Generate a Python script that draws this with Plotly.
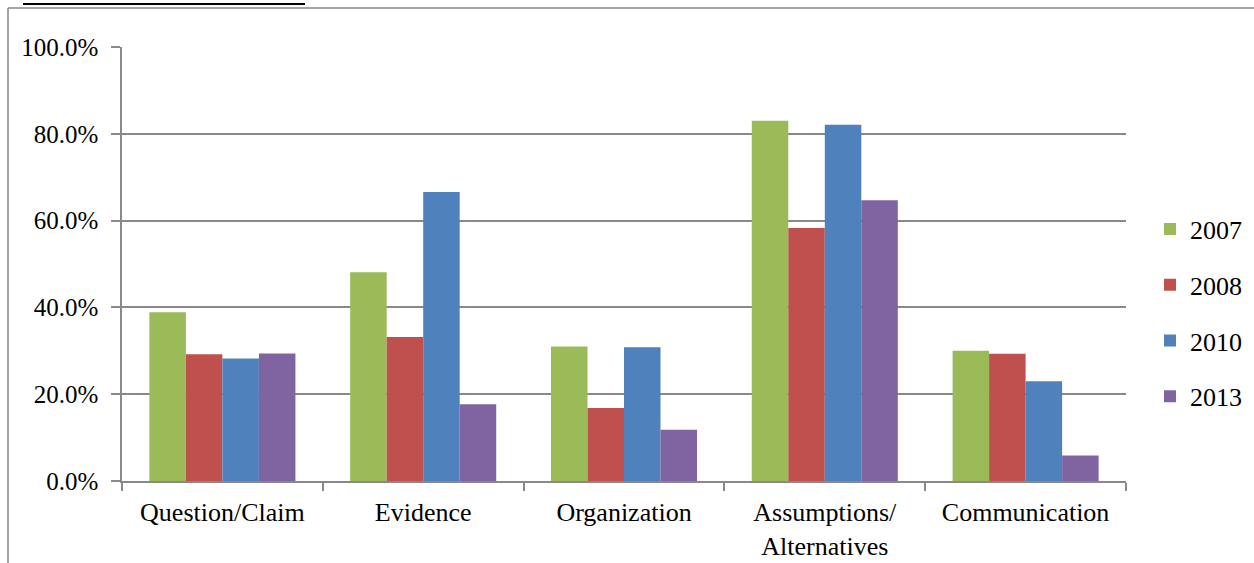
import plotly.graph_objects as go

categories = ["Question/Claim", "Evidence", "Organization", "Assumptions/<br>Alternatives", "Communication"]
years = ["2007", "2008", "2010", "2013"]
v2007 = [0.389, 0.481, 0.310, 0.830, 0.300]
v2008 = [0.292, 0.332, 0.168, 0.583, 0.293]
v2010 = [0.282, 0.666, 0.308, 0.821, 0.230]
v2013 = [0.294, 0.177, 0.118, 0.647, 0.059]
colors = ["#9BBB59", "#C0504D", "#4F81BD", "#8064A2"]

series = [v2007, v2008, v2010, v2013]
font_family = "Liberation Serif"

fig = go.Figure()
for name, vals, col in zip(years, series, colors):
    fig.add_trace(go.Bar(
        x=categories, y=vals, name=name, legendgroup=name,
        marker=dict(color=col, line=dict(width=0)),
    ))

W, H = 1254, 563
L, R, T, B = 122, 128, 47, 82
pw, ph = W - L - R, H - T - B

def px_x(x):
    return (x - L) / pw

def px_y(y):
    return (H - B - y) / ph

grid = "#898989"
fig.update_layout(
    width=W, height=H,
    margin=dict(l=L, r=R, t=T, b=B, pad=0, autoexpand=False),
    paper_bgcolor="white", plot_bgcolor="white",
    barmode="group", bargap=0.2727, bargroupgap=0,
    font=dict(family=font_family, size=26, color="black"),
    legend=dict(
        x=px_x(1150), y=px_y(313), xanchor="left", yanchor="middle",
        font=dict(family=font_family, size=26, color="black"),
        tracegroupgap=19, itemwidth=30, bgcolor="rgba(0,0,0,0)",
    ),
    xaxis=dict(
        showgrid=False, showline=True, linecolor=grid, linewidth=1.5,
        ticks="outside", tickson="boundaries", ticklen=8, tickcolor=grid, tickwidth=1.5,
        tickfont=dict(family=font_family, size=26, color="black"),
        ticklabelstandoff=7, automargin=False,
        fixedrange=True,
    ),
    yaxis=dict(
        range=[0, 1], tickvals=[0, 0.2, 0.4, 0.6, 0.8, 1.0], tickformat=".1%",
        showgrid=True, gridcolor=grid, gridwidth=1.5,
        showline=True, linecolor=grid, linewidth=1.5,
        ticks="outside", ticklen=9, tickcolor=grid, tickwidth=1.5,
        tickfont=dict(family=font_family, size=25, color="black"),
        ticklabelstandoff=8, automargin=False,
        zeroline=False, fixedrange=True,
    ),
    shapes=[
        dict(type="line", xref="paper", yref="paper",
             x0=px_x(8), x1=px_x(1300), y0=px_y(8), y1=px_y(8),
             line=dict(color="#878787", width=1.5)),
        dict(type="line", xref="paper", yref="paper",
             x0=px_x(8), x1=px_x(8), y0=px_y(8), y1=px_y(600),
             line=dict(color="#878787", width=1.5)),
        dict(type="line", xref="paper", yref="paper",
             x0=px_x(23), x1=px_x(305), y0=px_y(4), y1=px_y(4),
             line=dict(color="black", width=2)),
    ],
)

fig.write_html(
    "out.html",
    config={"displayModeBar": False},
    post_script="document.body.style.margin='0';document.body.style.overflow='hidden';",
)
